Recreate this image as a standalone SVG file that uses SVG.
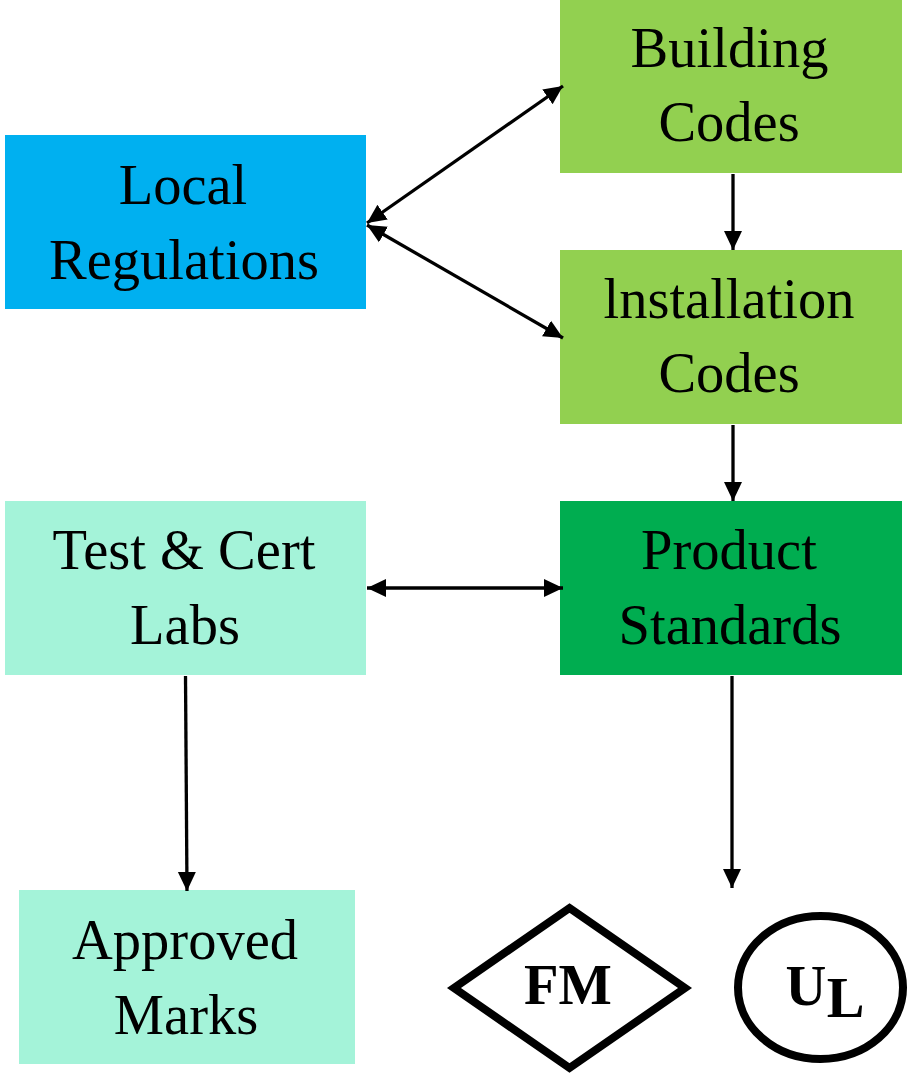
<svg xmlns="http://www.w3.org/2000/svg" width="909" height="1074" viewBox="0 0 909 1074">
<style>
text{font-family:"Liberation Serif","Times New Roman",serif;font-size:56.500px;fill:#000;text-anchor:middle}
.c line{stroke:#000;stroke-width:3.3}
.b{font-weight:bold}
</style>
<defs>
<marker id="e" markerUnits="userSpaceOnUse" markerWidth="20" markerHeight="20" refX="19" refY="9.5" orient="auto-start-reverse"><path d="M0 0.5L19 9.5L0 18.500z" fill="#000"/></marker>
</defs>
<rect width="909" height="1074" fill="#fff"/>
<g id="building"><rect x="560" y="0" width="342" height="173" fill="#92d050"/><text x="729.500" y="67">Building</text><text x="729" y="141">Codes</text></g>
<g id="local"><rect x="5" y="135" width="361" height="174" fill="#00b0f0"/><text x="183" y="204">Local</text><text x="184" y="279">Regulations</text></g>
<g id="install"><rect x="560" y="250" width="342" height="174" fill="#92d050"/><text x="729" y="318">lnstallation</text><text x="729" y="392">Codes</text></g>
<g id="labs"><rect x="5" y="501" width="361" height="174" fill="#a4f3d9"/><text x="184" y="569">Test &amp; Cert</text><text x="185" y="644">Labs</text></g>
<g id="product"><rect x="560" y="501" width="342" height="174" fill="#00ad50"/><text x="729" y="569">Product</text><text x="730" y="644">Standards</text></g>
<g id="marks"><rect x="19" y="890" width="336" height="174" fill="#a4f3d9"/><text x="185" y="959">Approved</text><text x="186" y="1034">Marks</text></g>
<g id="fm"><path d="M569.500 908L685 988L569.500 1068L454 988z" fill="#fff" stroke="#000" stroke-width="8"/><text class="b" x="568" y="1004">FM</text></g>
<g id="ul"><ellipse cx="820.500" cy="987.500" rx="82.500" ry="71.500" fill="#fff" stroke="#000" stroke-width="8"/><text class="b" x="806" y="1005">U</text><text class="b" x="845.500" y="1017">L</text></g>
<g class="c" id="connectors">
<line x1="367" y1="223" x2="563" y2="86" marker-start="url(#e)" marker-end="url(#e)"/>
<line x1="367" y1="225" x2="563" y2="338" marker-start="url(#e)" marker-end="url(#e)"/>
<line x1="733" y1="174" x2="733" y2="250" marker-end="url(#e)"/>
<line x1="733" y1="425" x2="733" y2="501" marker-end="url(#e)"/>
<line x1="367" y1="588" x2="563" y2="588" marker-start="url(#e)" marker-end="url(#e)"/>
<line x1="732" y1="676" x2="732" y2="888" marker-end="url(#e)"/>
<line x1="185.500" y1="676" x2="187" y2="891" marker-end="url(#e)"/>
</g>
</svg>
